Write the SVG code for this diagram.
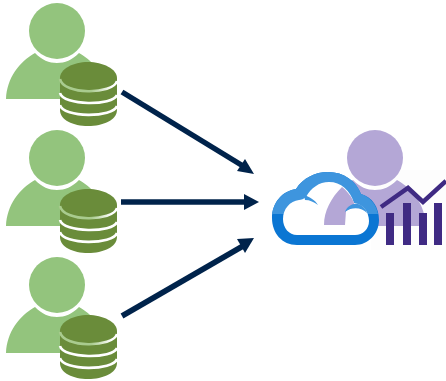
<svg xmlns="http://www.w3.org/2000/svg" width="446" height="381" viewBox="0 0 446 381">
<defs>
<style>
.g{fill:#93c47d}.p{fill:#b4a7d6}.dk{fill:#6a8c3a}.w{fill:none;stroke:#fff;stroke-width:2.6}
.ln{stroke:#00234b;stroke-width:5.5;fill:none}.ar{fill:#00234b}.bar{fill:#3f2a83}
</style>
<linearGradient id="band"><stop offset="0.55" stop-color="#a9cb8e"/><stop offset="0.9" stop-color="#fff"/></linearGradient>
<g id="person">
<path d="M6 99C7 78 19 62 35 53C42 60 49 63 57 63C65 63 72 60 79 53C95 62 107 78 108 99Z"/>
<circle cx="57" cy="31" r="28"/>
</g>
<g id="db">
<path class="dk" d="M60 78C60 69 73 62 88 62C103 62 117 69 117 78V110C117 120 103 126 88 126C73 126 60 120 60 110Z"/>
<path fill="none" stroke="url(#band)" stroke-width="2.6" d="M60 79C63 95 113 95 117 81"/>
<path class="w" d="M60 93C63 106 113 106 117 95"/>
<path class="w" d="M60 105C63 118 113 118 117 106"/>
</g>
</defs>
<g id="user1"><use href="#person" class="g"/><use href="#db"/></g>
<g id="user2"><use href="#person" y="127" class="g"/><use href="#db" y="127"/></g>
<g id="user3"><use href="#person" y="254" class="g"/><use href="#db" y="253"/></g>
<g id="connectors">
<path class="ln" d="M122 92L243 166"/><path class="ar" d="M254 174L237 171L245 159Z"/>
<path class="ln" d="M121 202L246 202"/><path class="ar" d="M259 202L244 194V210Z"/>
<path class="ln" d="M122 316L243 246"/><path class="ar" d="M254 238L245 253L237 239Z"/>
</g>
<g id="analyst">
<rect x="371" y="170" width="75" height="80" fill="#fdfdfd"/>
<use href="#person" x="318" y="127" class="p"/>
<path d="M297 245C282 245 272 233 272 218C272 203 282 191 296 189C303 178 315 172 328 172C344 172 356 181 361 194C372 197 379 207 379 220C379 234 368 245 355 245Z" fill="#0b76d3"/>
<path d="M272 214C274 201 283 191 296 189C303 178 315 172 328 172C344 172 356 181 361 194C370 197 376 204 378 214Z" fill="#3e95de"/>
<path d="M297 235C289 235 283 228 283 219C283 209 290 201 299 200C301 200 304 199 306 197C311 188 319 182 329 182C341 182 350 190 354 203C363 204 369 212 369 221C369 229 363 235 355 235Z" fill="#fff"/>
<path d="M324 225C324 211 331 198 342 187C347 191 352 197 354 203C356 207 352 207 346 211L345 225Z" fill="#b4a7d6"/>
<path d="M304 195C310 197 315 200 318 205C314 202 310 200 305 200ZM345 212C347 206 353 203 358 204C362 205 366 209 367 213C362 208 353 206 345 212Z" fill="#3e95de"/>
</g>
<g id="chart">
<path d="M381 207L408 188L423 202L446 181" fill="none" stroke="#3f2a83" stroke-width="4.5"/>
<rect class="bar" x="386" y="213" width="8" height="32"/>
<rect class="bar" x="403" y="203" width="8" height="42"/>
<rect class="bar" x="419" y="213" width="8" height="32"/>
<rect class="bar" x="434" y="203" width="8" height="42"/>
</g>
</svg>
